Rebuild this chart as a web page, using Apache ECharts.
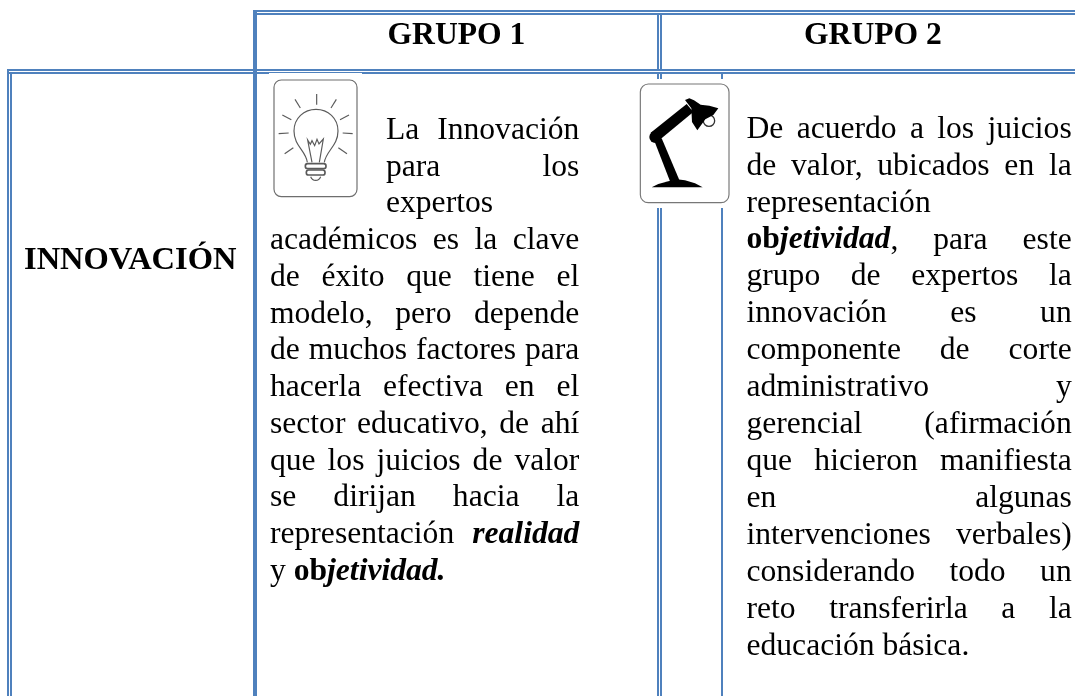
<!DOCTYPE html>
<html>
<head>
<meta charset="utf-8">
<style>
  html, body { margin: 0; padding: 0; background: #fff; }
  #chart { width: 1075px; height: 696px; }
</style>
<script src="https://cdn.jsdelivr.net/npm/echarts@6/dist/echarts.min.js"></script>
</head>
<body>
<div id="chart"></div>
<script>
const groupHeaders = ["GRUPO 1", "GRUPO 2"];
const rowHeader = "INNOVACIÓN";
// {b|..} bold, {bi|..} bold italic
const group1Lines = [
  "La Innovación",
  "para los",
  "expertos",
  "académicos es la clave",
  "de éxito que tiene el",
  "modelo, pero depende",
  "de muchos factores para",
  "hacerla efectiva en el",
  "sector educativo, de ahí",
  "que los juicios de valor",
  "se dirijan hacia la",
  "representación {bi|realidad}",
  "y {b|ob}{bi|jetividad.}",
];
const group2Lines = [
  "De acuerdo a los juicios",
  "de valor, ubicados en la",
  "representación",
  "{b|ob}{bi|jetividad}, para este",
  "grupo de expertos la",
  "innovación es un",
  "componente de corte",
  "administrativo y",
  "gerencial (afirmación",
  "que hicieron manifiesta",
  "en algunas",
  "intervenciones verbales)",
  "considerando todo un",
  "reto transferirla a la",
  "educación básica.",
];
// lines that end a paragraph or stay left aligned next to the icon
const group1Ragged = ["expertos", "y {b|ob}{bi|jetividad.}"];
const group2Ragged = ["representación", "educación básica."];

const FONT = "Liberation Serif";
const SIZE = 31.6;
const BLUE = "#4f81bd";
const GREY = "#5a5a5a";

const ctx = document.createElement("canvas").getContext("2d");
const cssFont = (kind, size) =>
  (kind === "bi" ? "italic bold " : kind === "b" ? "bold " : "") + (size || SIZE) + "px '" + FONT + "'";

// "{b|ob}{bi|jetividad}," -> runs
const parseWord = (word) => {
  const runs = [];
  const re = /\{(b|bi)\|([^}]*)\}|([^{]+)/g;
  let m;
  while ((m = re.exec(word))) {
    runs.push(m[1] ? { kind: m[1], text: m[2] } : { kind: "n", text: m[3] });
  }
  return runs;
};
const runWidth = (run) => {
  ctx.font = cssFont(run.kind);
  return ctx.measureText(run.text).width;
};
const wordWidth = (runs) => runs.reduce((s, r) => s + runWidth(r), 0);

const textEl = (text, x, baseline, kind, size) => ({
  type: "text",
  x: x,
  y: baseline - (size || SIZE) * 0.27,
  silent: true,
  style: {
    text: text,
    fill: "#000",
    font: cssFont(kind, size),
    textAlign: "left",
    textVerticalAlign: "middle",
  },
});

const layoutLine = (line, left, right, baseline, ragged) => {
  const words = line.split(" ").map(parseWord);
  const widths = words.map(wordWidth);
  const total = widths.reduce((a, b) => a + b, 0);
  const gap = ragged || words.length < 2 ? SIZE * 0.25 : (right - left - total) / (words.length - 1);
  const out = [];
  let x = left;
  words.forEach((runs) => {
    runs.forEach((r) => {
      out.push(textEl(r.text, x, baseline, r.kind));
      x += runWidth(r);
    });
    x += gap;
  });
  return out;
};

const bar = (x, y, w, h) => ({
  type: "rect",
  silent: true,
  shape: { x: x, y: y, width: w, height: h },
  style: { fill: BLUE },
});
const blank = (x, y, w, h) => ({
  type: "rect",
  silent: true,
  shape: { x: x, y: y, width: w, height: h },
  style: { fill: "#fff" },
});
const stroke = (w) => ({ stroke: GREY, lineWidth: w || 3.5, fill: null });
const ln = (x1, y1, x2, y2) => ({
  type: "line",
  silent: true,
  shape: { x1: x1, y1: y1, x2: x2, y2: y2 },
  style: stroke(),
});
const curve = (x1, y1, c1x, c1y, c2x, c2y, x2, y2) => ({
  type: "bezierCurve",
  silent: true,
  shape: { x1: x1, y1: y1, cpx1: c1x, cpy1: c1y, cpx2: c2x, cpy2: c2y, x2: x2, y2: y2 },
  style: stroke(),
});
const black = (points) => ({
  type: "polygon",
  silent: true,
  shape: { points: points },
  style: { fill: "#000" },
});

// both icons are drawn in the coordinates of a 3x crop of their corner
const bulbIcon = {
  type: "group",
  x: 220,
  y: 0,
  scaleX: 1 / 3,
  scaleY: 1 / 3,
  children: [
    {
      type: "rect",
      silent: true,
      shape: { x: 162, y: 240, width: 249, height: 350, r: 22 },
      style: { fill: "#fff", stroke: "#6e6e6e", lineWidth: 3.5 },
    },
    ln(290, 282, 290, 314),
    ln(225, 298, 241, 324),
    ln(349, 298, 333, 324),
    ln(187, 345, 214, 359),
    ln(387, 345, 360, 359),
    ln(176, 401, 206, 399),
    ln(398, 401, 368, 399),
    ln(194, 461, 220, 443),
    ln(381, 461, 355, 443),
    curve(262, 487, 258, 452, 222, 438, 222, 393),
    curve(222, 393, 222, 355, 252, 328, 288, 328),
    curve(288, 328, 324, 328, 354, 355, 354, 393),
    curve(354, 393, 354, 438, 318, 452, 313, 487),
    {
      type: "polyline",
      silent: true,
      shape: { points: [[276, 487], [263, 420], [271, 433], [276, 422], [284, 437], [291, 418], [297, 432], [310, 417], [298, 487]] },
      style: stroke(),
    },
    {
      type: "rect",
      silent: true,
      shape: { x: 256, y: 491, width: 62, height: 15, r: 7 },
      style: stroke(5),
    },
    {
      type: "rect",
      silent: true,
      shape: { x: 259, y: 510, width: 56, height: 15, r: 7 },
      style: stroke(5),
    },
    curve(272, 530, 278, 545, 296, 545, 302, 530),
  ],
};

const lampIcon = {
  type: "group",
  x: 620,
  y: 0,
  scaleX: 1 / 3,
  scaleY: 1 / 3,
  children: [
    {
      type: "rect",
      silent: true,
      shape: { x: 61, y: 252, width: 266, height: 356, r: 24 },
      style: { fill: "#fff", stroke: "#777", lineWidth: 3.5 },
    },
    {
      type: "circle",
      silent: true,
      shape: { cx: 267, cy: 362, r: 17 },
      style: { fill: "#fff", stroke: "#333", lineWidth: 4 },
    },
    black([[95, 562], [115, 552], [145, 544], [170, 538], [195, 541], [225, 550], [248, 562]]),
    black([[104, 425], [125, 415], [178, 540], [150, 544]]),
    black([[92, 398], [200, 312], [220, 336], [112, 425]]),
    {
      type: "circle",
      silent: true,
      shape: { cx: 106, cy: 411, r: 18 },
      style: { fill: "#000" },
    },
    black([[195, 300], [208, 295], [222, 301], [242, 314], [268, 317], [295, 325], [280, 345], [256, 358], [232, 391], [216, 366], [214, 325]]),
  ],
};

const elements = [
  // double rules, verticals stop at the horizontals
  bar(253, 10, 822, 2),
  bar(253, 13, 822, 2),
  bar(7, 69, 1068, 2),
  bar(7, 72, 1068, 2),
  bar(7, 69, 2, 627),
  bar(10, 72, 2, 624),
  bar(253, 10, 4, 686),
  bar(657, 13, 2, 56),
  bar(660, 13, 2, 56),
  bar(657, 74, 2, 622),
  bar(660, 74, 2, 622),
  bar(721, 74, 2, 622),
  // icons knock the rules out
  blank(269, 73, 93, 1.5),
  blank(640, 79, 95, 129),
  bulbIcon,
  lampIcon,
  // headers
  textEl(groupHeaders[0], 387.5, 44.3, "b"),
  textEl(groupHeaders[1], 804, 44.3, "b"),
  textEl(rowHeader, 24, 269, "b", 32.5),
];

group1Lines.forEach((line, i) => {
  const left = i < 3 ? 386 : 270;
  elements.push(...layoutLine(line, left, 579.3, 139 + 36.75 * i, group1Ragged.includes(line)));
});
group2Lines.forEach((line, i) => {
  elements.push(...layoutLine(line, 746.5, 1071.7, 138 + 36.93 * i, group2Ragged.includes(line)));
});

const chart = echarts.init(document.getElementById("chart"));
chart.setOption({
  animation: false,
  backgroundColor: "#fff",
  graphic: { elements: elements },
});
</script>
</body>
</html>
